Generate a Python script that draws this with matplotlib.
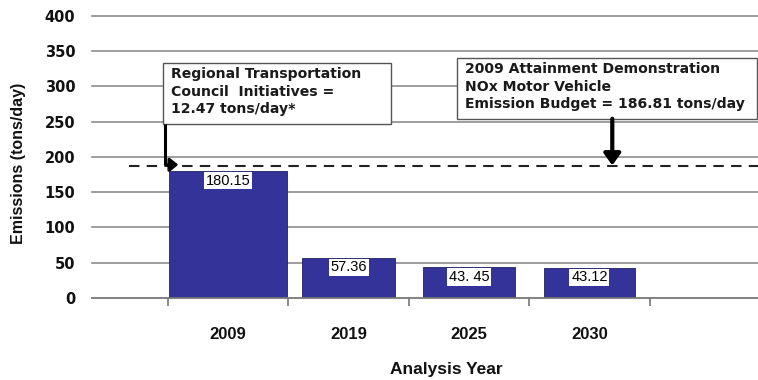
import matplotlib
matplotlib.use("Agg")
import matplotlib.pyplot as plt
from matplotlib.patches import Rectangle, FancyArrowPatch

# ---- data ----
years = ["2009", "2019", "2025", "2030"]
emissions = [180.15, 57.36, 43.45, 43.12]
bar_labels = ["180.15", "57.36", "43. 45", "43.12"]
budget = 186.81
rtc_text = "Regional Transportation\nCouncil  Initiatives =\n12.47 tons/day*"
budget_text = "2009 Attainment Demonstration\nNOx Motor Vehicle\nEmission Budget = 186.81 tons/day"
yticks = [0, 50, 100, 150, 200, 250, 300, 350, 400]

# ---- figure ----
W, H = 758, 380
fig = plt.figure(figsize=(W / 100, H / 100), dpi=100)
ax = fig.add_axes([92 / W, 1 - 298 / H, (W - 92) / W, (298 - 15.7) / H])
ax.set_xlim(-1.13, 4.40)
ax.set_ylim(0, 400)

x = list(range(len(years)))
widths = [0.98, 0.77, 0.76, 0.76]
blue = "#333399"

# grid
for v in yticks[1:]:
    ax.axhline(v, color="#8c8c8c", lw=1.2, zorder=0, clip_on=False)

bars = ax.bar(x, emissions, width=widths, color=blue, edgecolor="#222266",
              linewidth=0.6, zorder=2)

# value labels: white boxes at the top of each bar
for xi, v, lab in zip(x, emissions, bar_labels):
    ax.annotate(lab, (xi, v), xytext=(0, -2.0), textcoords="offset points",
                ha="center", va="top", fontsize=10.5, family="Liberation Sans",
                color="black", zorder=4,
                bbox=dict(boxstyle="square,pad=0.12", fc="white", ec="none"))

# budget dashed line
ax.plot([-0.82, 4.40], [budget, budget], ls=(0, (5, 3.5)), color="#222222",
        lw=1.5, zorder=3, clip_on=False)

# annotation box 1
ax.add_patch(Rectangle((-0.54, 247), 1.89, 86.6, fc="white", ec="#555555",
                       lw=1.0, zorder=5))
ax.text(-0.47, 327, rtc_text, ha="left", va="top", fontsize=10.1,
        family="DejaVu Sans", weight="bold", color="#1a1a1a",
        linespacing=1.3, zorder=6)
# elbow arrow from box 1 down to the line
ax.plot([-0.52, -0.52], [247, budget + 2], color="black", lw=2.2, zorder=6,
        solid_capstyle="butt")
ax.add_patch(FancyArrowPatch((-0.53, budget + 2), (-0.39, budget + 2),
                             arrowstyle="-|>,head_length=5,head_width=4",
                             color="black", lw=2.2, zorder=6))

# annotation box 2
ax.add_patch(Rectangle((1.90, 254), 2.49, 86.6, fc="white", ec="#555555",
                       lw=1.0, zorder=5, clip_on=False))
ax.text(1.97, 334, budget_text, ha="left", va="top", fontsize=10.1,
        family="DejaVu Sans", weight="bold", color="#1a1a1a",
        linespacing=1.3, zorder=6)
ax.add_patch(FancyArrowPatch((3.19, 254), (3.19, budget + 1),
                             arrowstyle="-|>,head_length=7,head_width=5",
                             color="black", lw=3.0, zorder=6,
                             shrinkA=0, shrinkB=0))

# axes styling
for s in ["top", "right", "left"]:
    ax.spines[s].set_visible(False)
ax.spines["bottom"].set_color("#777777")
ax.spines["bottom"].set_linewidth(1.3)

ax.set_yticks(yticks)
ax.set_yticklabels([str(v) for v in yticks], family="DejaVu Sans",
                   weight="bold", fontsize=10.5, color="#111111")
ax.tick_params(axis="y", length=0, pad=12)

ax.set_xticks([-0.5, 0.5, 1.5, 2.5, 3.5])
ax.set_xticklabels([])
ax.tick_params(axis="x", which="major", length=6, width=1.2, color="#777777",
               direction="out")
ax.set_xticks(x, minor=True)
ax.set_xticklabels(years, minor=True, family="Liberation Sans",
                   weight="bold", fontsize=12, color="#111111")
ax.tick_params(axis="x", which="minor", length=0, pad=21)

ax.set_xlabel("Analysis Year", family="Liberation Sans", weight="bold",
              fontsize=12.5, color="#111111")
ax.xaxis.set_label_coords((446 - 92) / 666, -(362 - 298) / 282.3)
ax.set_ylabel("Emissions (tons/day)", family="Liberation Sans",
              weight="bold", fontsize=11.5, color="#111111")
ax.yaxis.set_label_coords((26 - 92) / 666, (298 - 163) / 282.3)

fig.savefig("out.png", dpi=100)
